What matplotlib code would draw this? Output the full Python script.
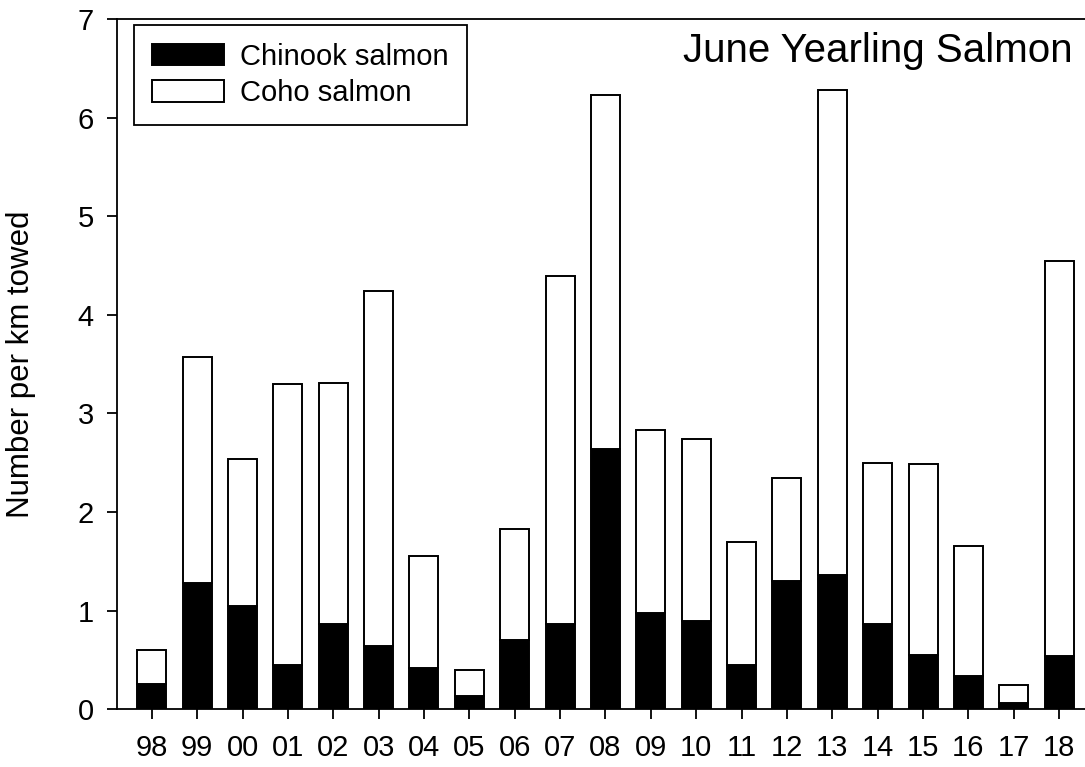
import matplotlib.pyplot as plt
import numpy as np

plt.rcParams['font.family'] = ['Liberation Sans', 'DejaVu Sans']

years = ['98', '99', '00', '01', '02', '03', '04', '05', '06', '07', '08',
         '09', '10', '11', '12', '13', '14', '15', '16', '17', '18']
chinook = [0.26, 1.28, 1.05, 0.45, 0.87, 0.64, 0.42, 0.14, 0.70, 0.87, 2.64,
           0.98, 0.90, 0.45, 1.30, 1.36, 0.87, 0.55, 0.34, 0.06, 0.54]
total = [0.60, 3.57, 2.54, 3.30, 3.31, 4.24, 1.55, 0.40, 1.83, 4.39, 6.23,
         2.83, 2.74, 1.70, 2.35, 6.28, 2.50, 2.49, 1.66, 0.25, 4.55]
coho = [t - c for t, c in zip(total, chinook)]

x = np.arange(len(years))

fig = plt.figure(figsize=(10.85, 7.67), dpi=100)
ax = fig.add_axes([0.1081, 0.0752, 0.8919, 0.9000])

ax.bar(x, chinook, width=0.64, color='black', edgecolor='black', linewidth=1.4,
       label='Chinook salmon')
ax.bar(x, coho, width=0.64, bottom=chinook, color='white', edgecolor='black',
       linewidth=1.4, label='Coho salmon')

ax.set_xlim(-0.76, 20.57)
ax.set_ylim(0, 7)
ax.set_xticks(x)
ax.set_xticklabels(years)
ax.set_yticks(range(8))

for side in ['left', 'bottom', 'top']:
    ax.spines[side].set_linewidth(1.3)
ax.spines['right'].set_visible(False)

ax.tick_params(axis='y', direction='out', length=7, width=1.3, pad=10, labelsize=21)
ax.tick_params(axis='x', direction='out', length=7, width=1.3, pad=11, labelsize=21)

ax.set_ylabel('Number per km towed', fontsize=22.5)
ax.yaxis.set_label_coords(-0.084, 0.5)

ax.text(0.9876, 0.9377, 'June Yearling Salmon', transform=ax.transAxes,
        ha='right', va='baseline', fontsize=29)

leg = ax.legend(loc='upper left', bbox_to_anchor=(0.0173, 0.9913), borderaxespad=0,
                fontsize=21, frameon=True, fancybox=False, edgecolor='black',
                framealpha=1, handlelength=2.5, handleheight=0.75,
                handletextpad=0.55, labelspacing=0.3, borderpad=0.6)
leg.get_frame().set_linewidth(1.3)

fig.savefig('out.png', dpi=100)
plt.close(fig)
